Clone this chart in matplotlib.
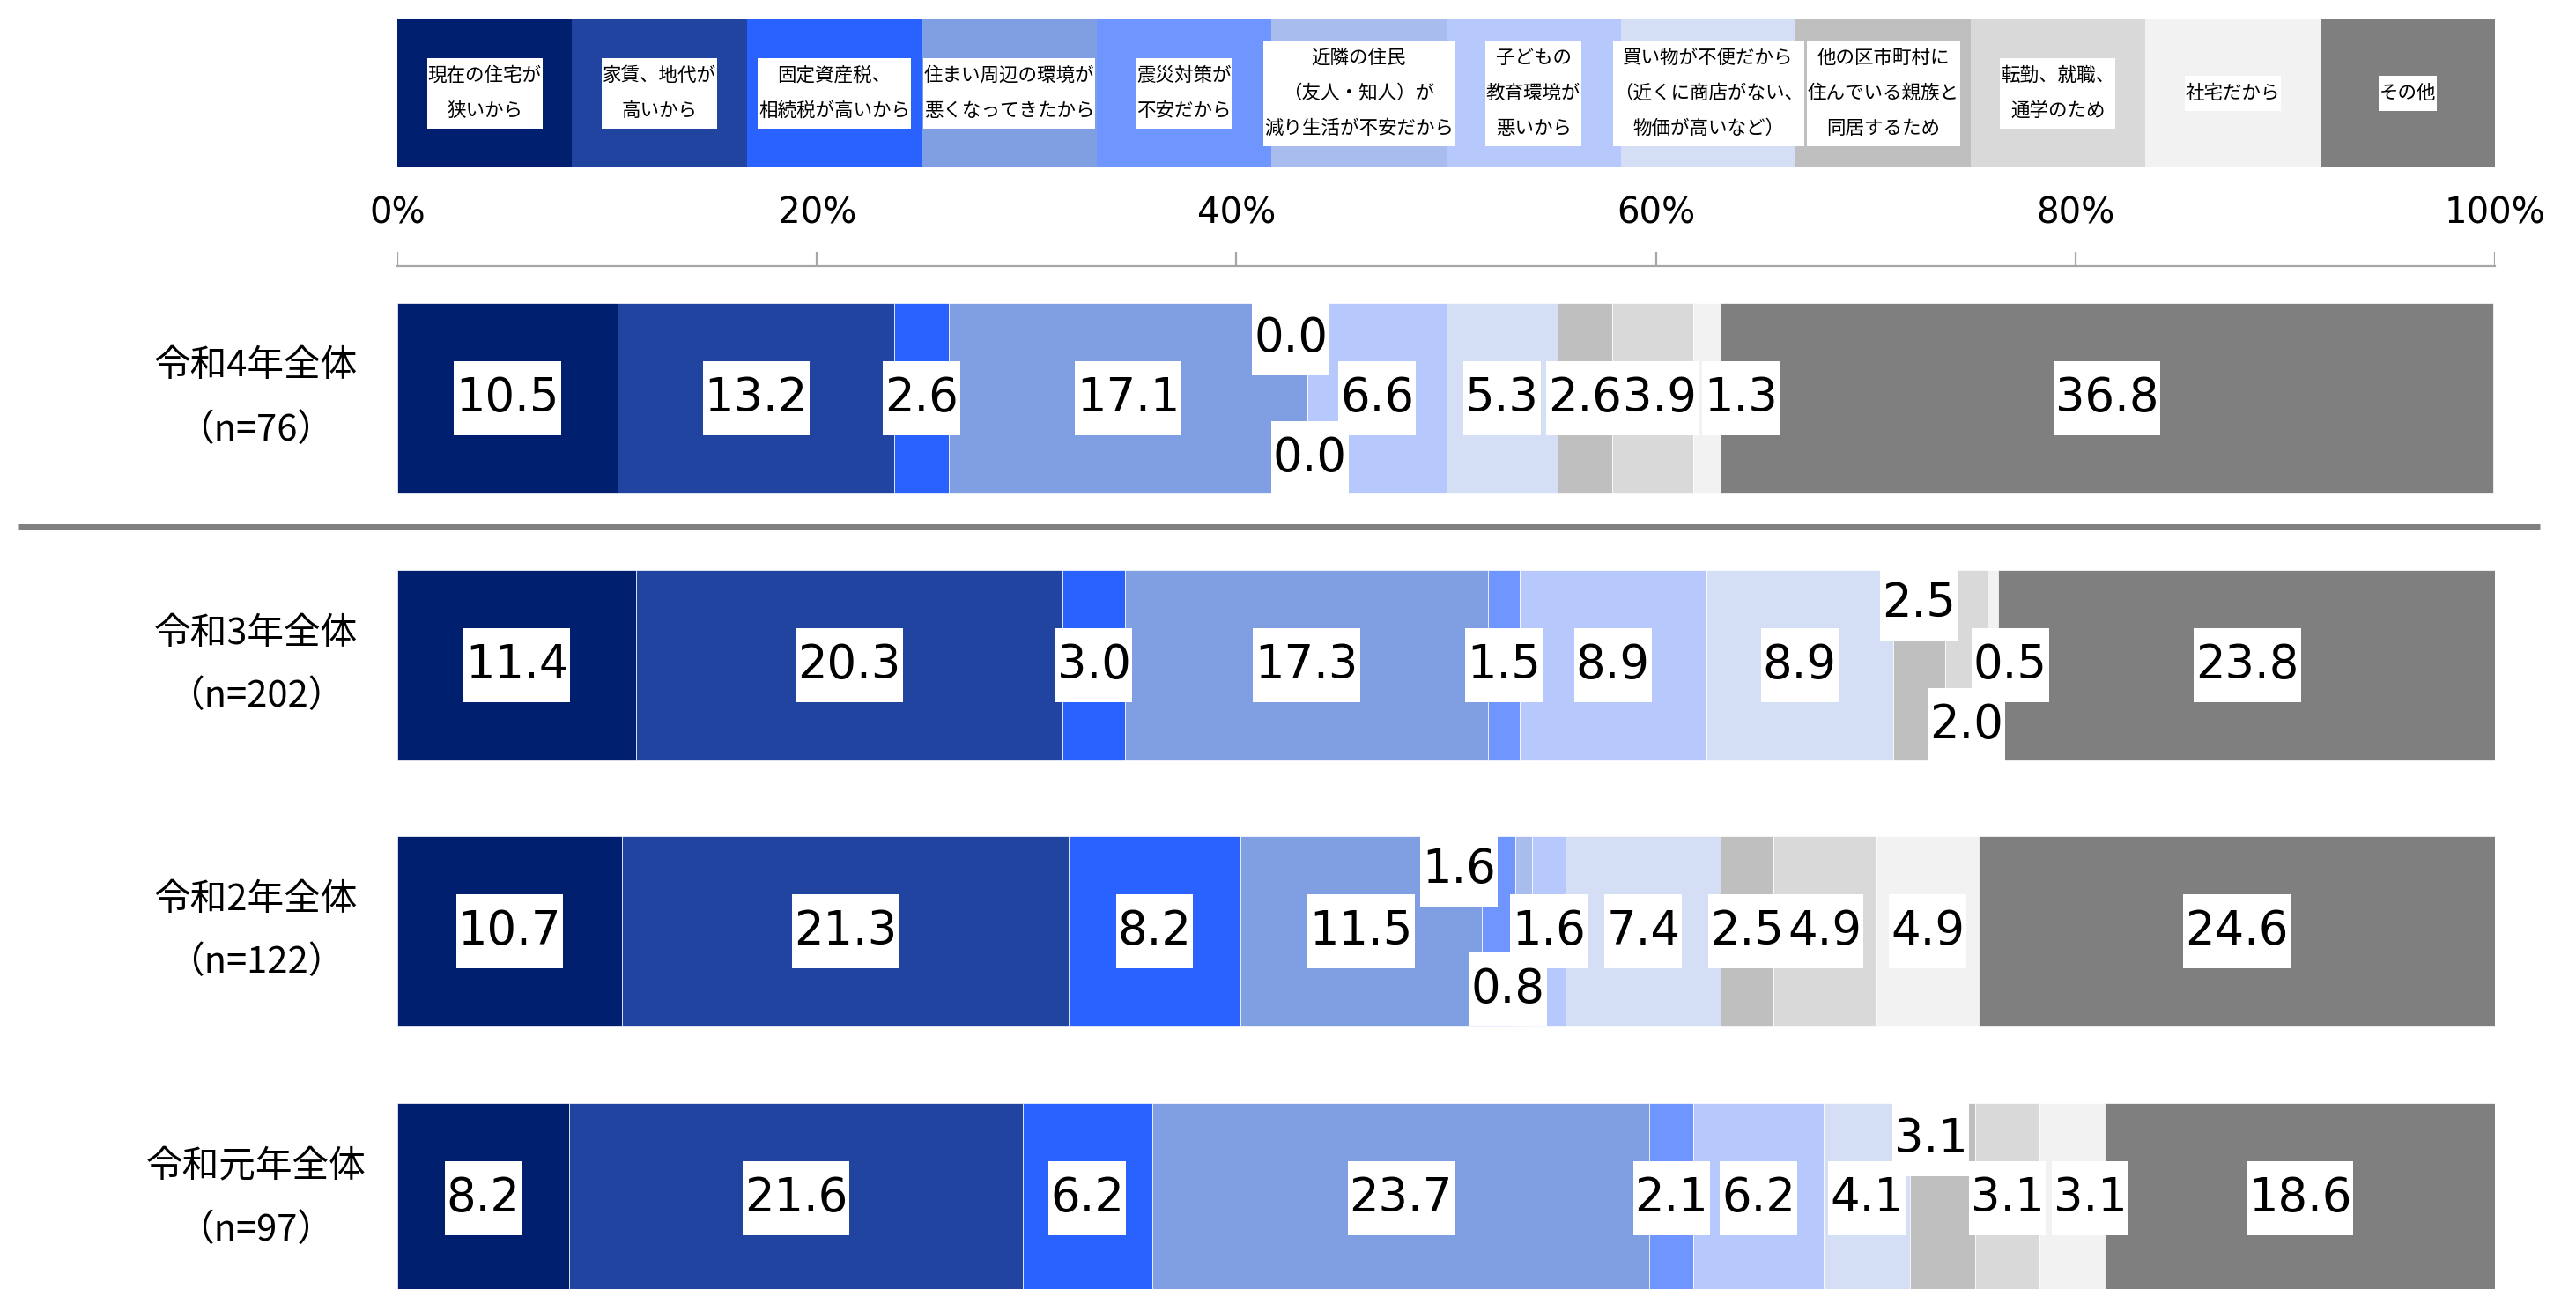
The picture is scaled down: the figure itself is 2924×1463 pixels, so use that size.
import numpy as np
import matplotlib
matplotlib.use("Agg")
import matplotlib.pyplot as plt
from matplotlib.patches import Rectangle
from matplotlib.transforms import IdentityTransform, Bbox

plt.rcParams['font.family'] = ['Noto Sans CJK JP', 'DejaVu Sans']

# reasons (legend) and colours
reasons = ['現在の住宅が\n狭いから', '家賃、地代が\n高いから', '固定資産税、\n相続税が高いから',
           '住まい周辺の環境が\n悪くなってきたから', '震災対策が\n不安だから',
           '近隣の住民\n（友人・知人）が\n減り生活が不安だから', '子どもの\n教育環境が\n悪いから',
           '買い物が不便だから\n（近くに商店がない、\n物価が高いなど）',
           '他の区市町村に\n住んでいる親族と\n同居するため', '転勤、就職、\n通学のため',
           '社宅だから', 'その他']
colors = ['#001F6F', '#2144A0', '#2962FF', '#809FE3', '#6F96FF', '#A9BCEE',
          '#B7C9FC', '#D4DEF5', '#BFBFBF', '#D9D9D9', '#F2F2F2', '#7F7F7F']

# survey rows
rows = ['令和4年全体\n（n=76）', '令和3年全体\n（n=202）', '令和2年全体\n（n=122）', '令和元年全体\n（n=97）']
r4 = [10.5, 13.2, 2.6, 17.1, 0.0, 0.0, 6.6, 5.3, 2.6, 3.9, 1.3, 36.8]
r3 = [11.4, 20.3, 3.0, 17.3, 1.5, 0.0, 8.9, 8.9, 2.5, 2.0, 0.5, 23.8]
r2 = [10.7, 21.3, 8.2, 11.5, 1.6, 0.8, 1.6, 7.4, 2.5, 4.9, 4.9, 24.6]
r1 = [8.2, 21.6, 6.2, 23.7, 2.1, 0.0, 6.2, 4.1, 3.1, 3.1, 3.1, 18.6]
data = [r4, r3, r2, r1]
ticks = [0, 20, 40, 60, 80, 100]

# labels that are not shown, and nudged labels (dx in %, dy in px)
hidden = {(1, 5), (3, 5)}
nudge = {(0, 4): (-0.8, -68), (0, 5): (0.1, 68), (0, 9): (0.35, 0), (0, 10): (1.6, 0),
         (1, 8): (0, -70), (1, 9): (0, 68), (1, 10): (0.85, 0),
         (2, 4): (-1.9, -70), (2, 5): (-0.75, 66),
         (3, 8): (-0.55, -67), (3, 10): (0.85, 0)}

W, H = 2924, 1463
fig = plt.figure(figsize=(W / 100, H / 100), dpi=100)
ax = fig.add_axes([451 / W, 0, 2381 / W, 1])
ax.set_xlim(0, 100)
ax.set_ylim(H, 0)
ax.axis('off')

row_y = [452, 755, 1057, 1360]
bar_h = 216
leg_y = 106

boxed = []  # (list of texts, box height, pad)

# legend strip
seg = 100 / len(reasons)
for i, (lab, c) in enumerate(zip(reasons, colors)):
    ax.barh(leg_y, seg, left=i * seg, height=168, color=c, edgecolor='none')
    lines = lab.split('\n')
    n = len(lines)
    ts = []
    for k, ln in enumerate(lines):
        ts.append(ax.text((i + 0.5) * seg, leg_y + (k - (n - 1) / 2) * 40, ln,
                          ha='center', va='center', fontsize=15.5, color='black', zorder=5))
    boxed.append((ts, n * 40, 1))

# axis with ticks above bars
ax.plot([0, 100], [302, 302], color='#A6A6A6', lw=1.6, clip_on=False)
ax.vlines(ticks, 286, 302, color='#A6A6A6', lw=1.6)
for t in ticks:
    ax.text(t, 243, f'{t}%', ha='center', va='center', fontsize=29, family='DejaVu Sans')

# separator under the latest year
ax.plot([-18.1, 102.15], [598, 598], color='#808080', lw=5, clip_on=False, solid_capstyle='butt')

# stacked bars
for r, (vals, yc, name) in enumerate(zip(data, row_y, rows)):
    left = np.concatenate([[0], np.cumsum(vals)[:-1]])
    ax.barh(yc, vals, left=left, height=bar_h, color=colors, edgecolor='white', linewidth=0.5)
    l1, l2 = name.split('\n')
    ax.text(-6.75, yc - 36, l1, ha='center', va='center', fontsize=30, clip_on=False)
    ax.text(-6.75, yc + 36, l2, ha='center', va='center', fontsize=30, clip_on=False)
    for i, v in enumerate(vals):
        if (r, i) in hidden:
            continue
        dx, dy = nudge.get((r, i), (0, 0))
        t = ax.text(left[i] + v / 2 + dx, yc + dy, f'{v:.1f}', ha='center', va='center',
                    fontsize=38, family='DejaVu Sans', color='black', zorder=5)
        boxed.append(([t], 84, 2))

# white boxes behind labels
fig.canvas.draw()
rend = fig.canvas.get_renderer()
for ts, bh, pad in boxed:
    bb = Bbox.union([t.get_window_extent(rend) for t in ts])
    cy = (bb.y0 + bb.y1) / 2
    rect = Rectangle((bb.x0 - pad, cy - bh / 2), bb.width + 2 * pad, bh,
                     transform=IdentityTransform(), facecolor='white', edgecolor='none',
                     zorder=4, clip_on=False)
    ax.add_artist(rect)

fig.savefig('out.png', dpi=100)
